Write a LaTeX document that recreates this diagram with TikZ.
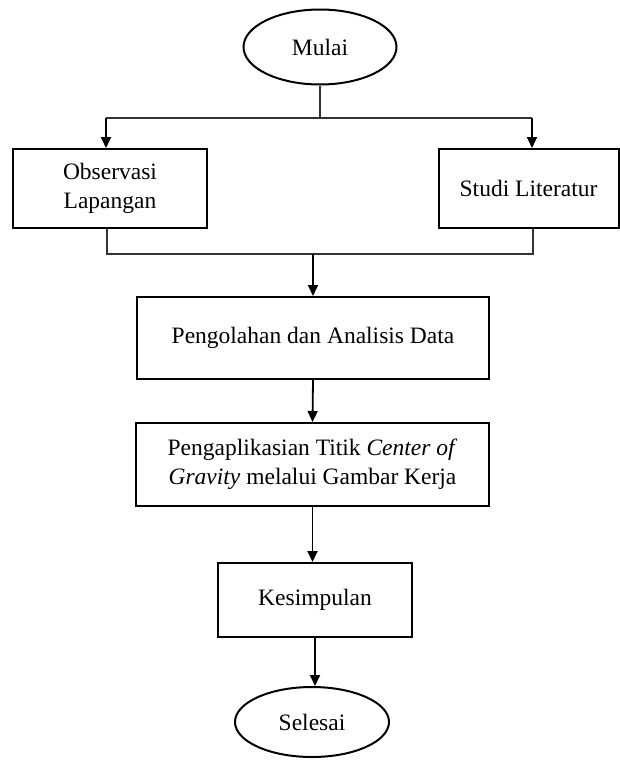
\documentclass[tikz,border=0pt]{standalone}
\usepackage{fontspec}
\setmainfont{Liberation Serif}
\usetikzlibrary{shapes.geometric,arrows.meta}
\begin{document}
\begin{tikzpicture}[x=1pt,y=-1pt,
  txt/.style={font=\fontsize{23.5}{29.5}\selectfont, align=center, inner sep=0pt},
  stepbox/.style={txt, draw=black, line width=2pt, rectangle},
  term/.style={txt, draw=black, line width=2pt, ellipse},
  link/.style={draw=black!80, line width=1.1pt},
  flow/.style={draw=black, line width=1.8pt, -{Triangle[length=11pt,width=10pt]}}
]
\useasboundingbox (0,0) rectangle (620,760);
\node[term, minimum width=153pt, minimum height=75pt] (mulai) at (320,47) {Mulai};
\node[stepbox, minimum width=194pt, minimum height=79pt] (obs) at (110,188.5) {Observasi\\Lapangan};
\node[stepbox, minimum width=180pt, minimum height=79pt] (studi) at (528.5,188.5) {Studi Literatur};
\node[stepbox, minimum width=352pt, minimum height=82pt] (peng) at (313,338) {Pengolahan dan Analisis Data};
\node[stepbox, minimum width=353pt, minimum height=83pt] (apl) at (312.5,464.5) {Pengaplikasian Titik \textit{Center of}\\\textit{Gravity} melalui Gambar Kerja};
\node[stepbox, minimum width=194pt, minimum height=74pt] (kes) at (315,600) {Kesimpulan};
\node[term, minimum width=154pt, minimum height=70pt] (sel) at (312,722) {Selesai};
% split from Mulai
\coordinate (top) at (320,118);
\coordinate (topL) at (106,118);
\coordinate (topR) at (532,118);
\draw[link] (mulai.south) -- (top);
\draw[link] (topL) -- (topR);
\draw[flow] (topL) -- (topL |- obs.north);
\draw[flow] (topR) -- (topR |- studi.north);
% merge to Pengolahan
\coordinate (botL) at (107,254);
\coordinate (botR) at (533,254);
\coordinate (botM) at (313,254);
\draw[link] (botL |- obs.south) -- (botL) -- (botR) -- (botR |- studi.south);
\draw[flow] (botM) -- (peng.north);
\draw[flow] (peng.south) -- (apl.north);
\draw[flow] (apl.south) -- (apl.south |- kes.north);
\draw[flow] (kes.south) -- (kes.south |- sel.north);
\end{tikzpicture}
\end{document}
